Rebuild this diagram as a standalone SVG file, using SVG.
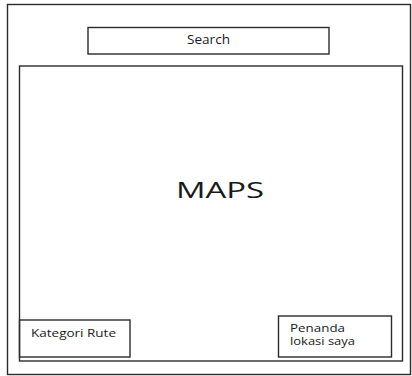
<svg xmlns="http://www.w3.org/2000/svg" width="412" height="376" viewBox="0 0 412 376">
<style>
.box{fill:none;stroke:#2b2b2b;stroke-width:1.4}
.t{font-family:"Open Sans","Liberation Sans",sans-serif;fill:#1a1a1a}
</style>
<rect width="412" height="376" fill="#fff"/>
<g id="frame"><rect class="box" x="7.5" y="4.5" width="403" height="370"/></g>
<g id="search"><rect class="box" x="88" y="27.5" width="241" height="26.5"/><text class="t" x="208.5" y="44" font-size="12" text-anchor="middle" textLength="43" lengthAdjust="spacingAndGlyphs">Search</text></g>
<g id="maps"><rect class="box" x="19.5" y="66" width="383" height="295"/><text class="t" x="176" y="198" font-size="21" textLength="88" lengthAdjust="spacingAndGlyphs">MAPS</text></g>
<g id="kategori"><rect class="box" x="19.5" y="320" width="110.5" height="37" fill="#fff"/><text class="t" x="31" y="337" font-size="10.5" textLength="85" lengthAdjust="spacingAndGlyphs">Kategori Rute</text></g>
<g id="penanda"><rect class="box" x="278.5" y="316" width="113" height="41"/><text class="t" font-size="10.5"><tspan x="290" y="332" textLength="55" lengthAdjust="spacingAndGlyphs">Penanda</tspan><tspan x="290" y="345" textLength="65" lengthAdjust="spacingAndGlyphs">lokasi saya</tspan></text></g>
<g id="connectors"></g>
</svg>
